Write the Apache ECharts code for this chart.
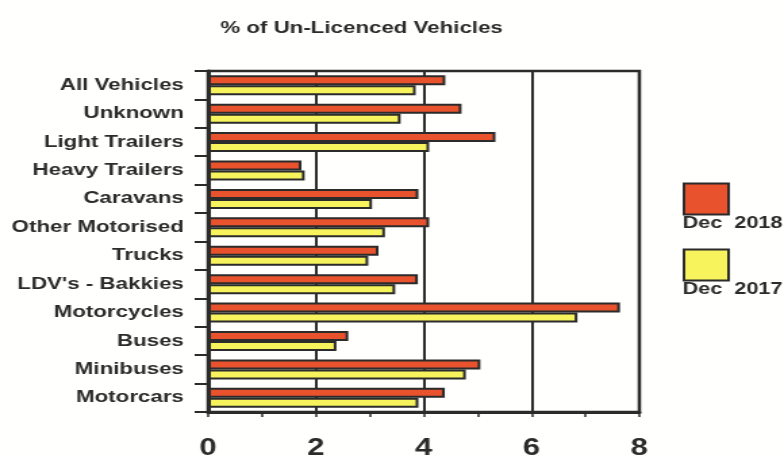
<!DOCTYPE html>
<html>
<head>
<meta charset="utf-8">
<script src="https://cdn.jsdelivr.net/npm/echarts@6/dist/echarts.min.js"></script>
<style>
  html, body { margin: 0; padding: 0; background: #fffffd; overflow: hidden; }
  /* the chart is laid out narrow and widened, giving the broad lettering */
  #chart { width: 580px; height: 458px; transform: scaleX(1.3517); transform-origin: 0 0; }
</style>
</head>
<body>
<div id="chart"></div>
<script>
// Vehicle classes, listed top to bottom
const categories = [
  'All Vehicles', 'Unknown', 'Light Trailers', 'Heavy Trailers', 'Caravans',
  'Other Motorised', 'Trucks', "LDV's - Bakkies", 'Motorcycles', 'Buses',
  'Minibuses', 'Motorcars'
];
// Share of un-licenced vehicles (%)
const dec2018 = [4.40, 4.70, 5.33, 1.73, 3.90, 4.10, 3.16, 3.89, 7.64, 2.60, 5.05, 4.39];
const dec2017 = [3.85, 3.57, 4.10, 1.79, 3.04, 3.28, 2.97, 3.47, 6.85, 2.38, 4.78, 3.90];
const xTicks = [0, 2, 4, 6, 8];
const seriesNames = ['Dec  2018', 'Dec  2017'];

const ink = '#2b2b2b';
const font = '"Liberation Sans", Arial, sans-serif';

const chart = echarts.init(document.getElementById('chart'));
chart.setOption({
  backgroundColor: '#fffffd',
  animation: false,
  title: {
    text: '% of Un-Licenced Vehicles',
    left: 262.5, top: 14.5, textAlign: 'center',
    textStyle: { fontFamily: font, fontWeight: 'bold', fontSize: 16.5, color: ink }
  },
  legend: {
    orient: 'vertical',
    left: 505, top: 161.5,
    padding: 0,
    itemGap: -9,
    itemWidth: 33, itemHeight: 31,
    icon: 'rect',
    data: seriesNames,
    // the name sits beneath its swatch
    formatter: name => '\n\n' + name,
    textStyle: {
      fontFamily: font, fontWeight: 'bold', fontSize: 16, color: ink,
      lineHeight: 25,
      padding: [0, 0, 0, -39]
    },
    itemStyle: { borderColor: ink, borderWidth: 2 }
  },
  grid: {
    left: 154, right: 107, top: 71, bottom: 46,
    outerBoundsMode: 'none',
    show: true, borderColor: ink, borderWidth: 2.5, backgroundColor: 'transparent'
  },
  xAxis: {
    type: 'value',
    min: xTicks[0], max: xTicks[xTicks.length - 1], interval: 2,
    axisLine: { show: true, lineStyle: { color: ink, width: 3 } },
    axisTick: { show: true, length: 5, lineStyle: { color: ink, width: 1.5 } },
    minorTick: { show: true, splitNumber: 2, length: 5, lineStyle: { color: ink, width: 1.5 } },
    axisLabel: {
      margin: 25,
      fontFamily: font, fontWeight: 'bold', fontSize: 23, color: ink,
      formatter: v => (xTicks.indexOf(v) >= 0 ? String(v) : '')
    },
    splitLine: { show: true, lineStyle: { color: ink, width: 2 } }
  },
  yAxis: {
    type: 'category',
    data: categories,
    inverse: true,
    axisLine: { show: true, lineStyle: { color: ink, width: 3 } },
    axisTick: { show: true, length: 10, lineStyle: { color: ink, width: 2 } },
    axisLabel: {
      margin: 18,
      fontFamily: font, fontWeight: 'bold', fontSize: 16.5, color: ink
    },
    splitLine: { show: false }
  },
  series: [
    {
      name: seriesNames[0], type: 'bar', data: dec2018,
      barWidth: 10, barGap: '0%',
      itemStyle: { color: '#e8522d', borderColor: ink, borderWidth: 2 }
    },
    {
      name: seriesNames[1], type: 'bar', data: dec2017,
      barWidth: 10, barGap: '0%',
      itemStyle: { color: '#f6f35c', borderColor: ink, borderWidth: 2 }
    }
  ]
});
</script>
</body>
</html>
